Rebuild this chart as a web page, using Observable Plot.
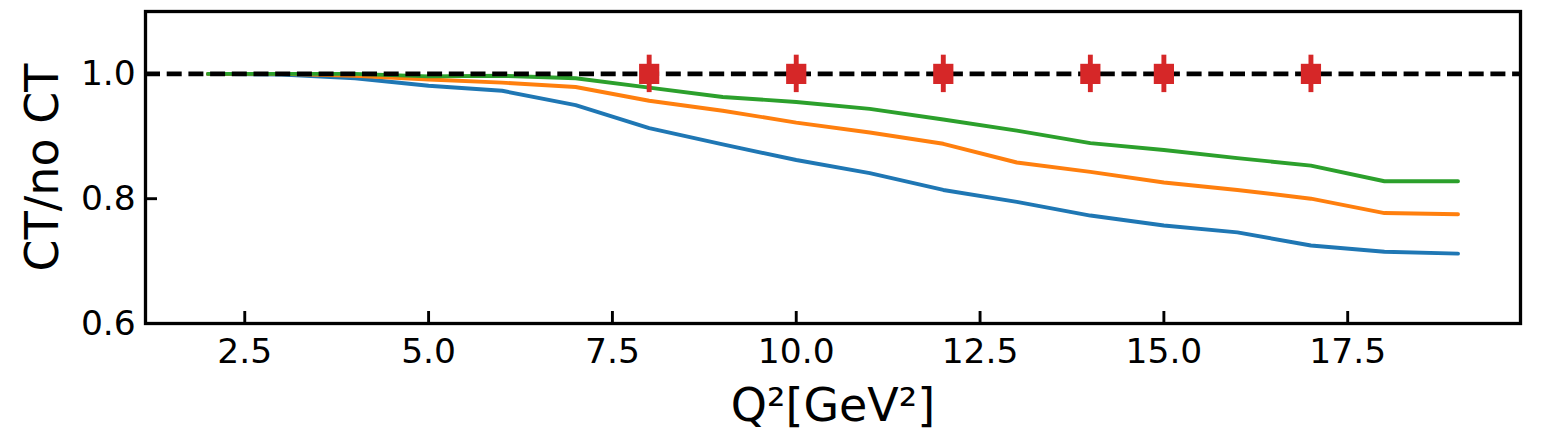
<!DOCTYPE html>
<html>
<head>
<meta charset="utf-8">
<script src="https://cdn.jsdelivr.net/npm/d3@7"></script>
<script src="https://cdn.jsdelivr.net/npm/@observablehq/plot@0.6"></script>
<style>
  html, body { margin: 0; padding: 0; background: #fff; }
</style>
</head>
<body>
<div id="chart"></div>
<script>
const q2 = [2, 3, 4, 5, 6, 7, 8, 9, 10, 11, 12, 13, 14, 15, 16, 17, 18, 19];
const ratioBlue   = [1.000, 0.999, 0.993, 0.981, 0.973, 0.950, 0.913, 0.887, 0.862, 0.841, 0.814, 0.795, 0.773, 0.757, 0.746, 0.725, 0.715, 0.712];
const ratioOrange = [1.000, 1.000, 0.997, 0.991, 0.986, 0.979, 0.957, 0.941, 0.922, 0.906, 0.888, 0.858, 0.843, 0.826, 0.814, 0.800, 0.777, 0.775];
const ratioGreen  = [1.000, 1.000, 1.000, 0.996, 0.997, 0.993, 0.978, 0.963, 0.955, 0.944, 0.927, 0.909, 0.889, 0.878, 0.865, 0.853, 0.828, 0.828];

const dataQ2 = [8, 10, 12, 14, 15, 17];
const dataRatio = [1.0, 1.0, 1.0, 1.0, 1.0, 1.0];
const dataErr = [0.03, 0.03, 0.03, 0.03, 0.03, 0.03];

const xTicks = [2.5, 5.0, 7.5, 10.0, 12.5, 15.0, 17.5];
const yTicks = [0.6, 0.8, 1.0];
const referenceLevel = [1.0];

const xLabel = "Q²[GeV²]";
const yLabel = "CT/no CT";

const series = [
  {values: ratioBlue, color: "#1f77b4"},
  {values: ratioOrange, color: "#ff7f0e"},
  {values: ratioGreen, color: "#2ca02c"}
];
const lineMarks = series.map(s =>
  Plot.line(q2.map((x, i) => ({x, y: s.values[i]})), {x: "x", y: "y", stroke: s.color, strokeWidth: 3.9})
);
const points = dataQ2.map((x, i) => ({x, y: dataRatio[i], lo: dataRatio[i] - dataErr[i], hi: dataRatio[i] + dataErr[i]}));

const font = "DejaVu Sans";
const chart = Plot.plot({
  width: 1546,
  height: 434,
  marginLeft: 145,
  marginRight: 26,
  marginTop: 11,
  marginBottom: 111,
  style: {background: "#fff", color: "#000", fontFamily: font, fontSize: "34.5px"},
  x: {domain: [1.15, 19.85]},
  y: {domain: [0.6, 1.1]},
  marks: [
    ...lineMarks,
    Plot.ruleY(referenceLevel, {stroke: "#000", strokeWidth: 4.8, strokeDasharray: "15,6.7"}),
    Plot.ruleX(points, {x: "x", y1: "lo", y2: "hi", stroke: "#d62728", strokeWidth: 4.9}),
    Plot.dot(points, {x: "x", y: "y", symbol: "square", r: 11.4, fill: "#d62728", stroke: null}),
    Plot.axisX({ticks: xTicks, tickFormat: d3.format(".1f"), tickSize: -12, tickPadding: 26.5, strokeWidth: 2.9, fontSize: 34.5, label: null}),
    Plot.axisY({ticks: yTicks, tickFormat: d3.format(".1f"), tickSize: -12, tickPadding: 21.7, strokeWidth: 2.9, fontSize: 34.5, label: null}),
    Plot.text([xLabel], {text: d => d, frameAnchor: "bottom", dy: 97, textAnchor: "middle", lineAnchor: "bottom", fontSize: 46, fill: "#000"}),
    Plot.text([yLabel], {text: d => d, frameAnchor: "left", dx: -102.5, rotate: -90, textAnchor: "middle", lineAnchor: "middle", fontSize: 46, fill: "#000"}),
    Plot.frame({stroke: "#000", strokeWidth: 3.3})
  ]
});
document.getElementById("chart").appendChild(chart);
</script>
</body>
</html>
